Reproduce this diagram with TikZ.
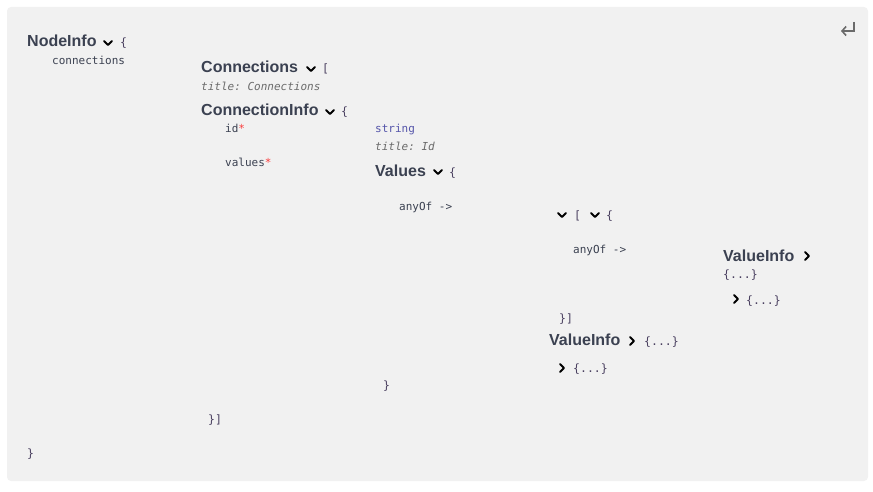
\documentclass[tikz,border=0pt]{standalone}
\usepackage{fontspec}
\setmainfont{Liberation Sans}
\setmonofont{DejaVu Sans Mono}
\usetikzlibrary{positioning,arrows.meta}
\definecolor{panel}{HTML}{F1F1F1}
\definecolor{ink}{HTML}{3B4151}
\definecolor{brace}{HTML}{4A4060}
\definecolor{typ}{HTML}{5555AA}
\definecolor{note}{HTML}{6B6B6B}
\definecolor{req}{HTML}{F93E3E}

\begin{document}
\begin{tikzpicture}[x=1pt, y=-1pt,
  every node/.style={inner sep=0pt, anchor=base west},
  title/.style={font=\bfseries\fontsize{16}{16}\selectfont, text=ink},
  prop/.style={font=\ttfamily\fontsize{11}{11}\selectfont, text=ink},
  meta/.style={font=\ttfamily\itshape\fontsize{11}{11}\selectfont, text=note},
  typ/.style={font=\ttfamily\fontsize{11}{11}\selectfont, text=typ},
  brc/.style={font=\ttfamily\fontsize{11.5}{11.5}\selectfont, text=brace},
  chev/.style={draw=black, line width=2pt, line cap=round, line join=round}]
\useasboundingbox (0,0) rectangle (873,492);
\fill[panel, rounded corners=4pt] (7,7) rectangle (868,481);

% return icon
\coordinate (R1) at (854,22);
\coordinate (R2) at (854,31);
\coordinate (R3) at (841,31);
\draw[-{Straight Barb[length=4pt, width=9pt]}, line width=1.6pt, note] (R1) -- (R2) -- (R3);

% outer model
\node [title] (T1) at (27,47) {NodeInfo};
\node [brc] (B1) at (120,47) {\{};
\node [prop] (P1) at (52,65) {connections};
\node [brc] (B1c) at (27,457) {\}};

% connections array
\node [title] (T2) at (201,73) {Connections};
\node [brc] (B2) at (322,73) {[};
\node [meta] (M2) at (201,91) {title: Connections};
\node [title] (T3) at (201,116) {ConnectionInfo};
\node [brc] (B3) at (341,116) {\{};
\node [prop] (P2) at (225,133) {id\textcolor{req}{*}};
\node [typ] (Y1) at (375,133) {string};
\node [meta] (M3) at (375,150) {title: Id};
\node [prop] (P3) at (225,167) {values\textcolor{req}{*}};
\node [brc] (B3c) at (208,423) {\}]};

% values
\node [title] (T4) at (375,176) {Values};
\node [brc] (B4) at (449,176) {\{};
\node [prop] (P4) at (399,211) {anyOf ->};
\node [brc] (B4c) at (383,389) {\}};

% inner array
\node [brc] (B5) at (574,219) {[};
\node [brc] (B6) at (606,219) {\{};
\node [prop] (P5) at (573,253) {anyOf ->};
\node [title] (T5) at (723,261) {ValueInfo};
\node [brc] (B7) at (723,278) {\{...\}};
\node [brc] (B8) at (746,304) {\{...\}};
\node [brc] (B6c) at (559,322) {\}]};
\node [title] (T6) at (549,345) {ValueInfo};
\node [brc] (B9) at (644,345) {\{...\}};
\node [brc] (B10) at (573,372) {\{...\}};

% toggles
\draw[chev] (104,41) -- (108,45) -- (112,41);
\draw[chev] (307,67) -- (311,71) -- (315,67);
\draw[chev] (326,110) -- (330,114) -- (334,110);
\draw[chev] (434,170) -- (438,174) -- (442,170);
\draw[chev] (558,213) -- (562,217) -- (566,213);
\draw[chev] (591,213) -- (595,217) -- (599,213);
\draw[chev] (805,252) -- (809,256) -- (805,260);
\draw[chev] (734,295) -- (738,299) -- (734,303);
\draw[chev] (630,337) -- (634,341) -- (630,345);
\draw[chev] (560,364) -- (564,368) -- (560,372);
\end{tikzpicture}
\end{document}
